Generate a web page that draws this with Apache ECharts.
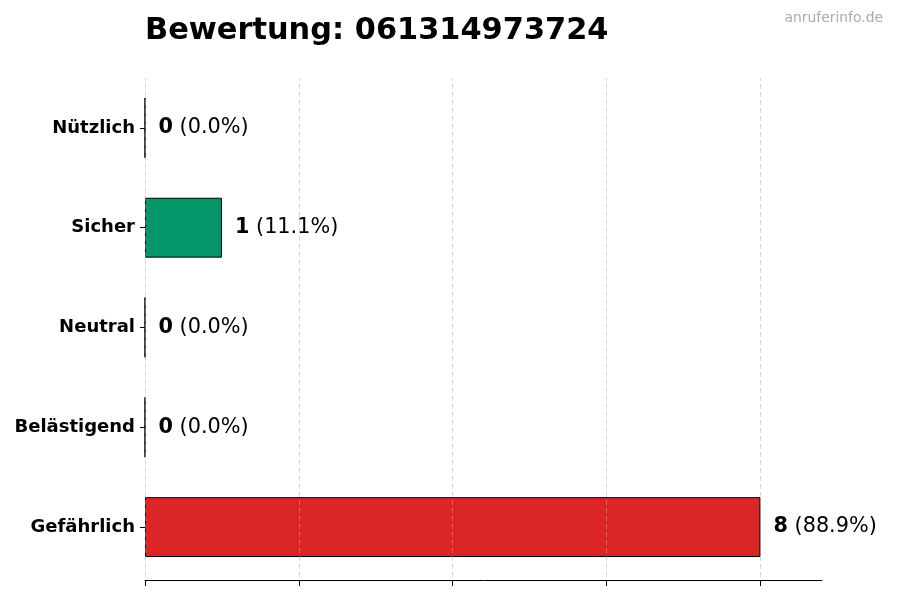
<!DOCTYPE html>
<html><head><meta charset="utf-8">
<script src="https://cdn.jsdelivr.net/npm/echarts@6/dist/echarts.min.js"></script>
<style>html,body{margin:0;padding:0;background:#fff}#c{width:900px;height:600px}</style>
</head><body><div id="c"></div>
<script>
var categories = ['Gefährlich', 'Belästigend', 'Neutral', 'Sicher', 'Nützlich'];
var values = [8, 0, 0, 1, 0];
var colors = ['#dc2626', '#dc2626', '#6b7280', '#059669', '#2563eb'];
var xTicks = [0, 2, 4, 6, 8];
var titleText = 'Bewertung: 061314973724';
var total = values.reduce(function(a,b){return a+b;}, 0);
var chart = echarts.init(document.getElementById('c'), null, {renderer:'canvas'});
var font = 'DejaVu Sans';
chart.setOption({
  animation: false,
  backgroundColor: '#fff',
  title: [{
    text: titleText, left: 140, top: 11,
    textStyle: {fontFamily: font, fontWeight: 'bold', fontSize: 30.4, color: '#000'}
  }, {
    text: 'anruferinfo.de', right: 12, top: 6,
    textStyle: {fontFamily: font, fontWeight: 'normal', fontSize: 13.9, color: '#aaa'}
  }],
  grid: {left: 145, right: 78, top: 78, bottom: 23, containLabel: false},
  xAxis: {
    type: 'value', min: 0, max: 8.8, interval: 2, offset: 3,
    axisLine: {show: true, lineStyle: {color: '#000', width: 1}},
    axisTick: {show: true, length: 6, customValues: xTicks, lineStyle: {color: '#000'}},
    axisLabel: {show: false},
    splitLine: {show: false}
  },
  yAxis: {
    type: 'category', data: categories,
    axisLine: {show: false},
    axisTick: {show: true, length: 5, alignWithLabel: true, lineStyle: {color: '#000'}},
    axisLabel: {fontFamily: font, fontWeight: 'bold', fontSize: 18, color: '#000', margin: 10, padding: [2, 0, 0, 0]}
  },
  series: [{
    type: 'bar', barWidth: '60%',
    data: values.map(function(v, i){
      return {value: v, itemStyle: {color: colors[i], borderColor: '#000', borderWidth: 1}};
    }),
    label: {
      show: true, position: 'right', distance: 13,
      formatter: function(p){
        return '{b|' + p.value + '}{n| (' + (p.value / total * 100).toFixed(1) + '%)}';
      },
      rich: {
        b: {fontFamily: font, fontWeight: 'bold', fontSize: 20.8, color: '#000'},
        n: {fontFamily: font, fontSize: 20.8, color: '#000'}
      }
    },
    markLine: {
      silent: true, symbol: 'none',
      label: {show: false},
      lineStyle: {type: [5, 3], color: '#b0b0b0', width: 1, opacity: 0.5},
      data: xTicks.map(function(t){ return {xAxis: t}; })
    }
  }]
});
</script></body></html>
